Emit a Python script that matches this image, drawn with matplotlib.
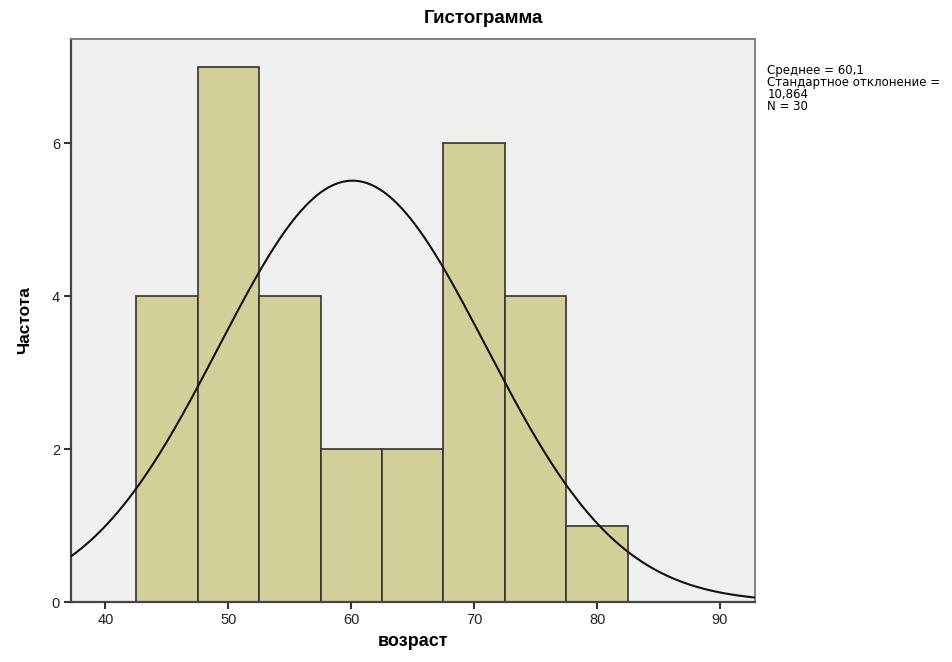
import numpy as np
import matplotlib.pyplot as plt

# histogram of "возраст"
bin_left = [42.5, 47.5, 52.5, 57.5, 62.5, 67.5, 72.5, 77.5]
counts = [4, 7, 4, 2, 2, 6, 4, 1]
bin_width = 5

mean = 60.1
std = 10.864
n = 30

xticks = [40, 50, 60, 70, 80, 90]
yticks = [0, 2, 4, 6]

plt.rcParams["font.family"] = ["Liberation Sans", "DejaVu Sans"]

fig = plt.figure(figsize=(9.52, 6.62), dpi=100)
ax = fig.add_axes([0.0746, 0.0906, 0.7185, 0.8505])
ax.set_facecolor("#f0f0f0")

ax.bar(bin_left, counts, width=bin_width, align="edge",
       color="#d3cf98", edgecolor="#333333", linewidth=1.2, zorder=2)

# fitted normal curve
xs = np.linspace(37.2, 92.85, 400)
pdf = np.exp(-0.5 * ((xs - mean) / std) ** 2) / (std * np.sqrt(2 * np.pi))
ax.plot(xs, pdf * n * bin_width, color="#111111", linewidth=1.5, zorder=3)

ax.set_xlim(37.2, 92.85)
ax.set_ylim(0, 7.36)
ax.set_xticks(xticks)
ax.set_yticks(yticks)
ax.tick_params(direction="out", length=5, width=1.5, color="#333333",
               labelsize=10.5, labelcolor="#222222", pad=3)

for side in ["left", "bottom"]:
    ax.spines[side].set_color("#444444")
    ax.spines[side].set_linewidth(1.6)
for side in ["top", "right"]:
    ax.spines[side].set_color("#777777")
    ax.spines[side].set_linewidth(1.3)

ax.set_xlabel("возраст", fontsize=13, fontweight="bold", labelpad=4)
ax.set_ylabel("Частота", fontsize=12.5, fontweight="bold", labelpad=14)

fig.text(0.508, 0.972, "Гистограмма", fontsize=13.5, fontweight="bold",
         ha="center", va="center")

stats = "Среднее = 60,1\nСтандартное отклонение =\n10,864\nN = 30"
fig.text(0.806, 0.904, stats, fontsize=8.5, family="DejaVu Sans",
         ha="left", va="top", linespacing=0.9)

fig.savefig("out.png", dpi=100)
